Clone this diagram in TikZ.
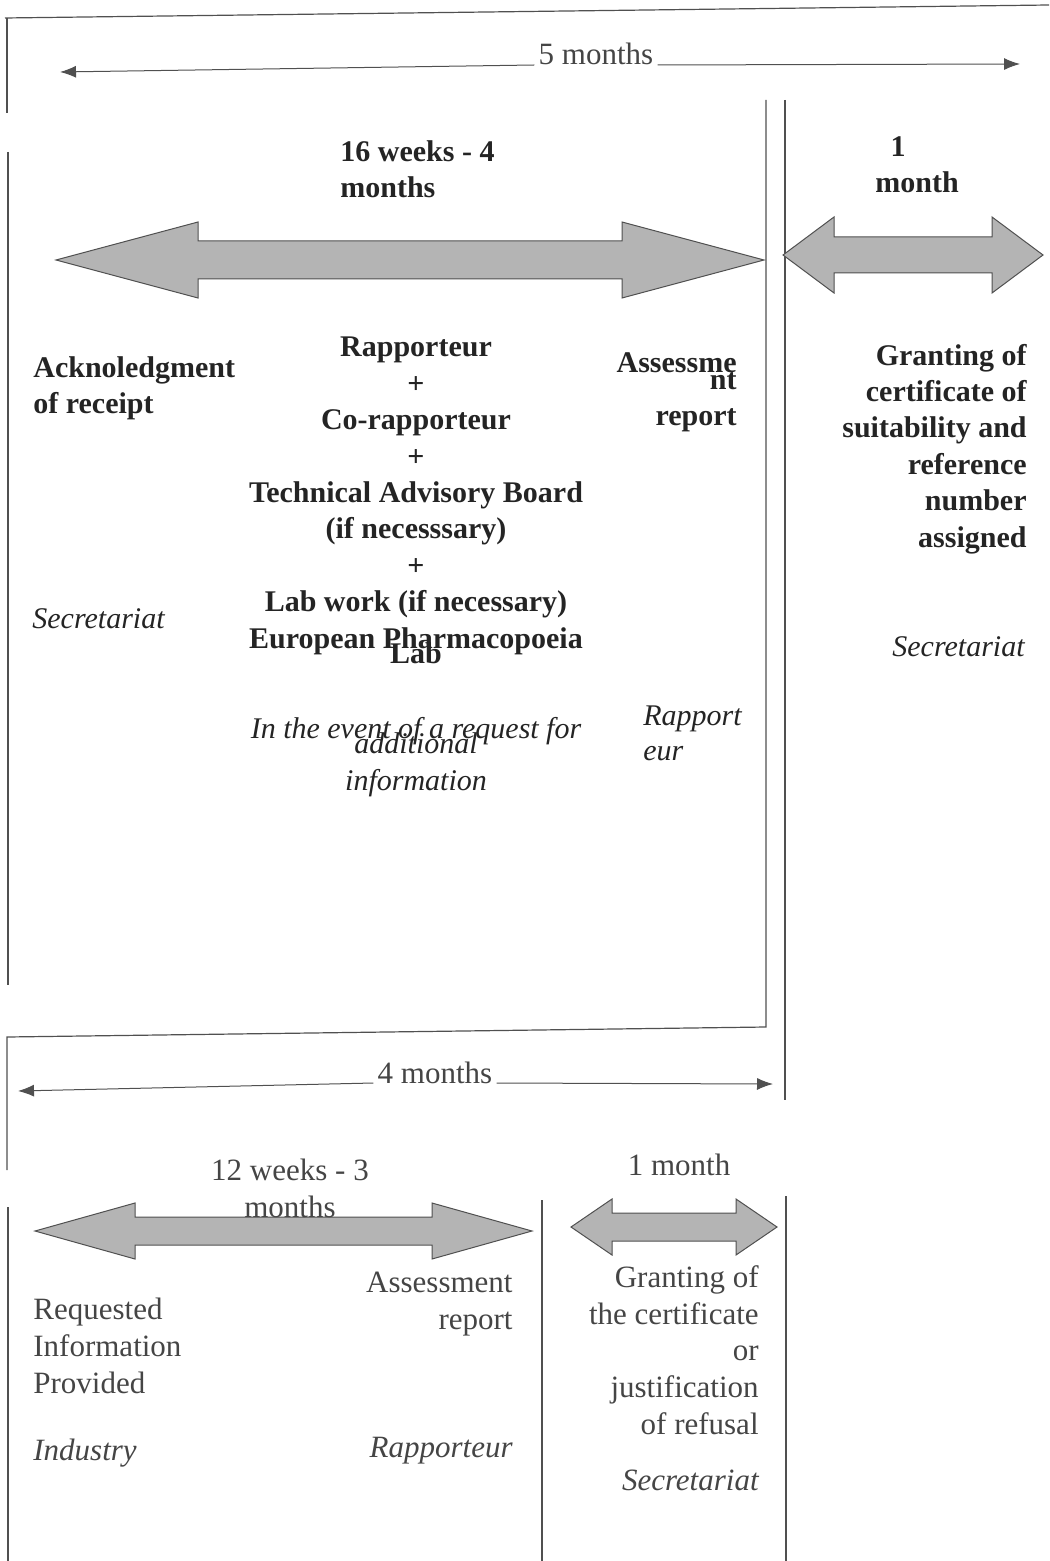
\documentclass[tikz,border=0pt]{standalone}
\usepackage{fontspec}
\setmainfont{Liberation Serif}
\usetikzlibrary{arrows.meta}
\definecolor{scanInk}{HTML}{242424}
\definecolor{scanGrey}{HTML}{B4B4B4}
\definecolor{scanLine}{HTML}{505050}

% wide double-headed arrow: left x, right x, mid y, shaft half, head half, head length
\newcommand{\fatarrow}[6]{%
  \draw[fatarrow] (#1,#3) -- ({#1+#6},{#3-#5}) -- ({#1+#6},{#3-#4}) -- ({#2-#6},{#3-#4})
    -- ({#2-#6},{#3-#5}) -- (#2,#3) -- ({#2-#6},{#3+#5}) -- ({#2-#6},{#3+#4})
    -- ({#1+#6},{#3+#4}) -- ({#1+#6},{#3+#5}) -- cycle;}

\begin{document}
\begin{tikzpicture}[
    x=0.5pt, y=-0.5pt,
    frame/.style={draw=scanLine, line width=0.6pt},
    fatarrow/.style={draw=scanLine, line width=0.5pt, fill=scanGrey, line join=miter},
    spanl/.style={draw=scanLine, line width=0.5pt, arrows={Latex[length=8pt,width=6pt]-}},
    spanr/.style={draw=scanLine, line width=0.5pt, arrows={-Latex[length=8pt,width=6pt]}},
    topbf/.style={inner sep=0pt, text=scanInk, font=\fontsize{15}{18.2}\selectfont\bfseries},
    topit/.style={inner sep=0pt, text=scanInk, font=\fontsize{15}{17.5}\selectfont\itshape},
    lowrm/.style={inner sep=0pt, text=scanInk!85, font=\fontsize{15.5}{18.3}\selectfont},
    lowit/.style={inner sep=0pt, text=scanInk!85, font=\fontsize{15.5}{18.3}\selectfont\itshape},
  ]
  \useasboundingbox (0,0) rectangle (1049,1561);

  % frame lines
  \draw[frame] (5,18) -- (1049,5);
  \draw[frame] (7,18) -- (7,113);
  \draw[frame] (8,152) -- (8,985);
  \draw[frame] (766,100) -- (766,1027) -- (7,1037) -- (7,1170);
  \draw[frame] (785,100) -- (785,1100);
  \draw[frame] (8,1207) -- (8,1561);
  \draw[frame] (542,1200) -- (542,1561);
  \draw[frame] (786,1196) -- (786,1561);

  % 5 months
  \node[lowrm, inner xsep=2pt, anchor=base] (m5) at (596,65) {5 months};
  \coordinate (m5a) at (60,72);
  \coordinate (m5b) at (1020,64);
  \draw[spanl] (m5a) -- (m5.base west);
  \draw[spanr] (m5.base east) -- (m5b);

  % upper arrows
  \fatarrow{56}{764}{260}{19}{38}{142}
  \fatarrow{783}{1043}{255}{18}{38}{51}

  % multi-line nodes sit on the baseline of their last line
  \node[topbf, anchor=base west, align=left] (w16) at (340,198) {16 weeks - 4\\months};
  \node[topbf, anchor=base] (one) at (898,157) {1};
  \node[topbf, anchor=base] (month1) at (917,193) {month};

  \node[topbf, anchor=base west, align=left] (ack) at (33,414) {Acknoledgment\\of receipt};
  \node[topbf, anchor=base, align=center] (rap) at (416,648)
    {Rapporteur\\+\\Co-rapporteur\\+\\Technical Advisory Board\\(if necesssary)\\+\\Lab work (if necessary)\\European Pharmacopoeia};
  \node[topbf, anchor=base] (lab) at (416,663) {Lab};
  \node[topbf, anchor=base east] (assm) at (737,373) {Assessme};
  \node[topbf, anchor=base east] (nt) at (737,390) {nt};
  \node[topbf, anchor=base east] (rep) at (737,425) {report};
  \node[topbf, anchor=base east, align=right] (grant) at (1027,547)
    {Granting of\\certificate of\\suitability and\\reference\\number\\assigned};

  \node[topit, anchor=base west] (sec1) at (32,628) {Secretariat};
  \node[topit, anchor=base east] (sec2) at (1025,656) {Secretariat};
  \node[topit, anchor=base] (event) at (416,738) {In the event of a request for};
  \node[topit, anchor=base] (addl) at (416,753) {additional};
  \node[topit, anchor=base] (info) at (416,790) {information};
  \node[topit, anchor=base west, align=left] (rapit) at (643,760) {Rapport\\eur};

  % 4 months
  \node[lowrm, inner xsep=2pt, anchor=base] (m4) at (435,1083) {4 months};
  \coordinate (m4a) at (18,1091);
  \coordinate (m4b) at (773,1084);
  \draw[spanl] (m4a) -- (m4.base west);
  \draw[spanr] (m4.base east) -- (m4b);

  % lower arrows
  \fatarrow{35}{532}{1231}{14}{28}{100}
  \fatarrow{571}{777}{1227}{14}{28}{41}

  \node[lowrm, anchor=base, align=center] (w12) at (290,1217) {12 weeks - 3\\months};
  \node[lowrm, anchor=base] (m1b) at (679,1175) {1 month};

  \node[lowrm, anchor=base west, align=left] (req) at (33,1393) {Requested\\Information\\Provided};
  \node[lowrm, anchor=base east, align=right] (assb) at (513,1329) {Assessment\\report};
  \node[lowrm, anchor=base east, align=right] (grantb) at (759,1434)
    {Granting of\\the certificate\\or\\justification\\of refusal};

  \node[lowit, anchor=base west] (ind) at (33,1460) {Industry};
  \node[lowit, anchor=base east] (rapb) at (513,1457) {Rapporteur};
  \node[lowit, anchor=base east] (secb) at (759,1490) {Secretariat};
\end{tikzpicture}
\end{document}
